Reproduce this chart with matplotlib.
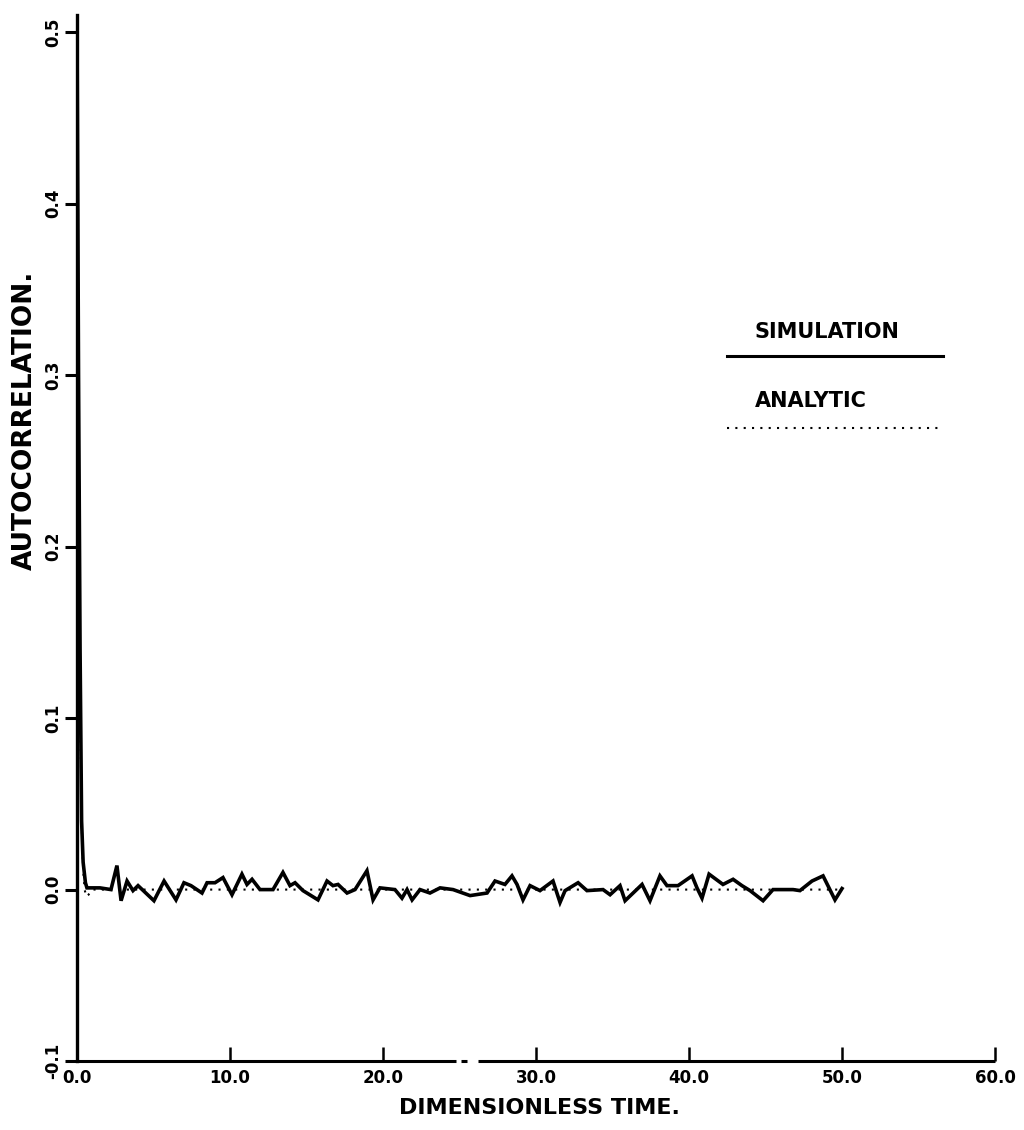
import matplotlib.pyplot as plt
import numpy as np

plt.rcParams['font.family'] = ['DejaVu Sans']
plt.rcParams['font.weight'] = 'bold'

# simulation autocorrelation
sim_t = [0.0, 0.1, 0.2, 0.3, 0.4, 0.55, 0.65, 1.50, 2.22, 2.61, 2.88, 3.27, 3.66, 3.99,
         5.03, 5.69, 6.47, 6.99, 7.45, 8.17, 8.50, 9.02, 9.54, 10.13, 10.78, 11.11,
         11.44, 11.96, 12.81, 13.46, 13.92, 14.25, 14.77, 15.75, 16.34, 16.73, 17.06,
         17.65, 18.17, 18.95, 19.35, 19.80, 20.78, 21.24, 21.57, 21.90, 22.42, 23.07,
         23.73, 24.58, 25.69, 26.80, 27.32, 27.97, 28.43, 28.76, 29.15, 29.61, 30.26,
         31.11, 31.57, 31.90, 32.75, 33.33, 34.38, 34.84, 35.49, 35.82, 36.93, 37.45,
         38.10, 38.56, 39.28, 40.20, 40.52, 40.85, 41.31, 42.22, 42.88, 43.46, 43.99,
         44.84, 45.49, 46.80, 47.25, 48.04, 48.76, 49.54, 50.0]
sim_v = [0.505, 0.30, 0.14, 0.04, 0.016, 0.004, 0.001, 0.001, 0.0, 0.014, -0.0065, 0.005,
         -0.0006, 0.0023, -0.0065, 0.005, -0.006, 0.004, 0.0023, -0.002, 0.004, 0.004,
         0.007, -0.003, 0.009, 0.003, 0.006, 0.0, 0.0, 0.010, 0.0023, 0.004, -0.0006,
         -0.006, 0.005, 0.0023, 0.003, -0.002, 0.0, 0.011, -0.006, 0.001, 0.0, -0.005,
         0.0, -0.006, 0.0, -0.002, 0.001, 0.0, -0.0035, -0.002, 0.005, 0.003, 0.008,
         0.003, -0.006, 0.0023, -0.0006, 0.005, -0.0075, -0.0006, 0.004, -0.0006, 0.0,
         -0.003, 0.0023, -0.0065, 0.003, -0.0065, 0.008, 0.0023, 0.0023, 0.008, 0.001,
         -0.005, 0.009, 0.003, 0.006, 0.0023, -0.0006, -0.0065, 0.0, 0.0, -0.0006,
         0.005, 0.008, -0.006, 0.0006]

# analytic curve
ana_t = [0.0, 0.1, 0.2, 0.3, 0.4, 0.5, 0.6, 0.75, 1.0, 50.0]
ana_v = [0.5, 0.28, 0.12, 0.04, 0.012, 0.0, -0.004, -0.003, 0.0, 0.0]

xticks = [0, 10, 20, 30, 40, 50, 60]
yticks = [-0.1, 0.0, 0.1, 0.2, 0.3, 0.4, 0.5]

fig = plt.figure(figsize=(10.24, 11.3), dpi=100)
ax = fig.add_axes([0.0752, 0.061, 0.8965, 0.9257])

ax.plot(sim_t, sim_v, color='black', lw=2.6, solid_joinstyle='miter')
ax.plot(ana_t, ana_v, color='black', lw=1.5, linestyle=(0, (1, 3)))

ax.set_xlim(0, 60)
ax.set_ylim(-0.1, 0.51)

ax.spines['top'].set_visible(False)
ax.spines['right'].set_visible(False)
ax.spines['bottom'].set_visible(False)
ax.spines['left'].set_linewidth(2.4)
# x axis line with the small break near 25
for seg in [(0, 24.8), (25.1, 25.5), (26.2, 60)]:
    ax.plot(seg, [-0.1, -0.1], color='black', lw=2.2, clip_on=False, solid_capstyle='butt')

ax.set_xticks(xticks)
ax.set_xticklabels([f"{v:.1f}" for v in xticks], fontsize=12, fontweight='bold')
ax.set_yticks(yticks)
ax.set_yticklabels([f"{v:.1f}" for v in yticks], fontsize=12, fontweight='bold',
                   rotation=90, va='center')
ax.tick_params(axis='x', direction='in', length=10, width=1.8, pad=6)
ax.tick_params(axis='y', direction='out', length=8.5, width=2.2, pad=2)

ax.set_xlabel("DIMENSIONLESS TIME.", fontsize=16, fontweight='bold')
ax.xaxis.set_label_coords(0.504, -0.035)
ax.set_ylabel("AUTOCORRELATION.", fontsize=19, fontweight='bold')
ax.yaxis.set_label_coords(-0.043, 0.613)

# legend drawn by hand
ax.text(44.3, 0.325, "SIMULATION", fontsize=15, fontweight='bold', va='center', ha='left')
ax.plot([42.5, 56.6], [0.311, 0.311], color='black', lw=2.2)
ax.text(44.3, 0.285, "ANALYTIC", fontsize=15, fontweight='bold', va='center', ha='left')
ax.plot([42.5, 56.4], [0.269, 0.269], color='black', lw=1.5, linestyle=(0, (1, 3)))

fig.savefig("out.png", dpi=100)
